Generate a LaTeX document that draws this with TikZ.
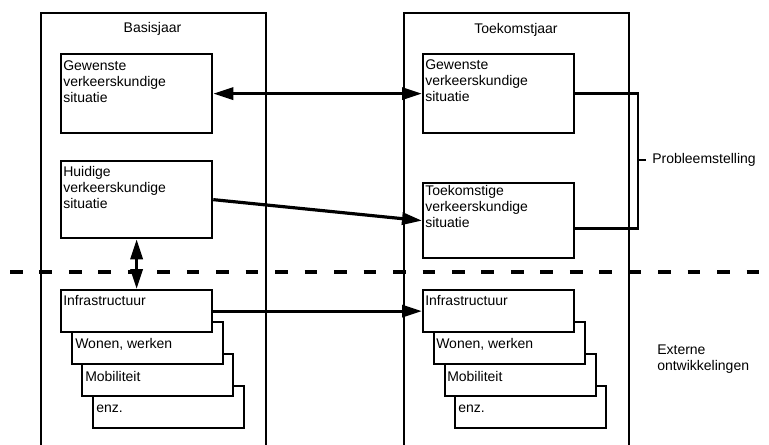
\documentclass[tikz,border=0pt]{standalone}
\usepackage{fontspec}
\setmainfont{Liberation Sans}
\usetikzlibrary{arrows.meta,calc}
\begin{document}
\begin{tikzpicture}[x=0.75pt,y=-0.75pt,
  every node/.style={font=\fontsize{10.5}{12}\selectfont},
  frame/.style={draw,line width=1.8pt,anchor=north west,inner sep=0pt,
    minimum width=168.75pt,minimum height=360pt},
  box/.style={draw,line width=1.7pt,fill=white,anchor=north west,inner sep=0pt,
    minimum width=113.25pt},
  stackbox/.style={box,minimum height=31.5pt},
  title/.style={anchor=base,inner sep=0pt},
  txt/.style={anchor=north west,inner sep=0pt,align=left},
  lbl/.style={anchor=base west,inner sep=0pt},
  link/.style={line width=2.4pt},
  tip/.style={-{Triangle[length=15pt,width=9pt]}},
  tips/.style={{Triangle[length=15pt,width=9pt]}-{Triangle[length=15pt,width=9pt]}},
  bracket/.style={line width=1.8pt}
]
\clip (0,0) rectangle (769,444);
\fill[white] (0,0) rectangle (769,444);

% the two year columns (open towards the bottom)
\node[frame] (basis) at (40,12) {};
\node[frame] (toekomst) at (403,12) {};
\node[title] (tbasis) at (152.5,32) {Basisjaar};
\node[title] (ttoek) at (516,33) {Toekomstjaar};

% traffic situations
\node[box,minimum height=59.25pt] (lgew) at (60,53) {};
\node[txt] (lgewt) at (63,60) {Gewenste\\verkeerskundige\\situatie};
\node[box,minimum height=57.75pt] (lhuid) at (60,160) {};
\node[txt] (lhuidt) at (63,166) {Huidige\\verkeerskundige\\situatie};
\node[box,minimum height=59.25pt] (rgew) at (422,53) {};
\node[txt] (rgewt) at (425,59) {Gewenste\\verkeerskundige\\situatie};
\node[box,minimum height=56.25pt] (rtoek) at (422,182) {};
\node[txt] (rtoekt) at (425,185) {Toekomstige\\verkeerskundige\\situatie};

% external developments, stacked back to front
\node[stackbox] (lenz) at (91.5,385) {};
\node[stackbox] (lmob) at (81,353) {};
\node[stackbox] (lwon) at (70.5,321) {};
\node[stackbox] (linfra) at (60,289) {};
\node[lbl] (linfrat) at (63,305) {Infrastructuur};
\node[lbl] (lwont) at (75,348) {Wonen, werken};
\node[lbl] (lmobt) at (85,381) {Mobiliteit};
\node[lbl] (lenzt) at (96,412) {enz.};

\node[stackbox] (renz) at (454,385) {};
\node[stackbox] (rmob) at (443.5,353) {};
\node[stackbox] (rwon) at (433,321) {};
\node[stackbox] (rinfra) at (422,289) {};
\node[lbl] (rinfrat) at (425,305) {Infrastructuur};
\node[lbl] (rwont) at (436,348) {Wonen, werken};
\node[lbl] (rmobt) at (447,381) {Mobiliteit};
\node[lbl] (renzt) at (458,412) {enz.};

% boundary between traffic situations and external developments
\coordinate (dashL) at (10,272);
\coordinate (dashR) at (769,272);
\draw[line width=2.6pt,dash pattern=on 9.5pt off 12.6pt] (dashL) -- (dashR);

% connections
\draw[link,tips] (lgew.east) -- (rgew.west);
\draw[link,tip] (lhuid.east) -- (rtoek.west);
\draw[link,tips] (lhuid.south) -- (linfra.north);
\draw[link,tip] (linfra.east) -- (rinfra.west);

% problem statement bracket
\coordinate (brk) at (638,160);
\coordinate (tick) at (646,160);
\draw[bracket] (rgew.east) -| (brk) |- ($(rtoek.east)+(0,8)$);
\draw[bracket] (brk) -- (tick);
\node[anchor=west,inner sep=0pt] (prob) at (652,160) {Probleemstelling};

\node[txt] (ext) at (657,345) {Externe\\ontwikkelingen};
\end{tikzpicture}
\end{document}
